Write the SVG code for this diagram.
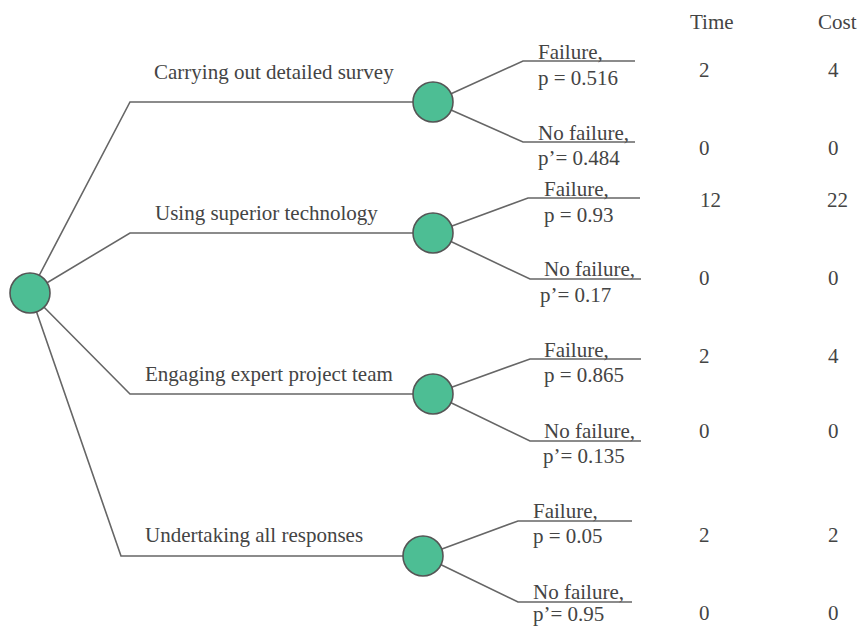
<svg xmlns="http://www.w3.org/2000/svg" width="859" height="628" viewBox="0 0 859 628">
<style>
.ln{fill:none;stroke:#666;stroke-width:1.6;stroke-linejoin:miter}
.nd{fill:#4dbe94;stroke:#555;stroke-width:1.6}
text{font-family:"Liberation Serif","Times New Roman",serif;font-size:21px;fill:#444}
</style>
<rect width="859" height="628" fill="#fff"/>
<g id="connectors">
<polyline class="ln" points="30,293 130,102 433,102"/>
<polyline class="ln" points="30,293 130,233 433,233"/>
<polyline class="ln" points="30,293 130,394 433,394"/>
<polyline class="ln" points="30,293 121,556 423,556"/>
<polyline class="ln" points="433,102 523,61 635,61"/>
<polyline class="ln" points="433,102 523,142 635,142"/>
<polyline class="ln" points="433,233 528,198 640,198"/>
<polyline class="ln" points="433,233 530,279 641,279"/>
<polyline class="ln" points="433,394 530,359 641,359"/>
<polyline class="ln" points="433,394 530,441 641,441"/>
<polyline class="ln" points="423,556 518,521 632,521"/>
<polyline class="ln" points="423,556 518,602 632,602"/>
</g>
<g id="root"><circle class="nd" cx="30" cy="293" r="20"/></g>
<g id="option1">
<text x="154" y="79">Carrying out detailed survey</text>
<circle class="nd" cx="433" cy="102" r="20"/>
</g>
<g id="option2">
<text x="155" y="220">Using superior technology</text>
<circle class="nd" cx="433" cy="233" r="20"/>
</g>
<g id="option3">
<text x="145" y="381">Engaging expert project team</text>
<circle class="nd" cx="433" cy="394" r="20"/>
</g>
<g id="option4">
<text x="145" y="542">Undertaking all responses</text>
<circle class="nd" cx="423" cy="556" r="20"/>
</g>
<g id="outcomes">
<text x="538" y="59">Failure,</text>
<text x="538" y="85">p = 0.516</text>
<text x="538" y="140">No failure,</text>
<text x="538" y="165">p’= 0.484</text>
<text x="544" y="196">Failure,</text>
<text x="544" y="222">p = 0.93</text>
<text x="544" y="276">No failure,</text>
<text x="540" y="302">p’= 0.17</text>
<text x="544" y="357">Failure,</text>
<text x="544" y="382">p = 0.865</text>
<text x="544" y="438">No failure,</text>
<text x="543" y="463">p’= 0.135</text>
<text x="533" y="518">Failure,</text>
<text x="533" y="543">p = 0.05</text>
<text x="533" y="599">No failure,</text>
<text x="533" y="621">p’= 0.95</text>
</g>
<g id="values">
<text x="690" y="29">Time</text>
<text x="818" y="29">Cost</text>
<text x="699" y="77">2</text><text x="828" y="77">4</text>
<text x="699" y="155">0</text><text x="828" y="155">0</text>
<text x="700" y="207">12</text><text x="827" y="207">22</text>
<text x="699" y="285">0</text><text x="828" y="285">0</text>
<text x="699" y="363">2</text><text x="828" y="363">4</text>
<text x="699" y="438">0</text><text x="828" y="438">0</text>
<text x="699" y="542">2</text><text x="828" y="542">2</text>
<text x="699" y="620">0</text><text x="828" y="620">0</text>
</g>
</svg>
